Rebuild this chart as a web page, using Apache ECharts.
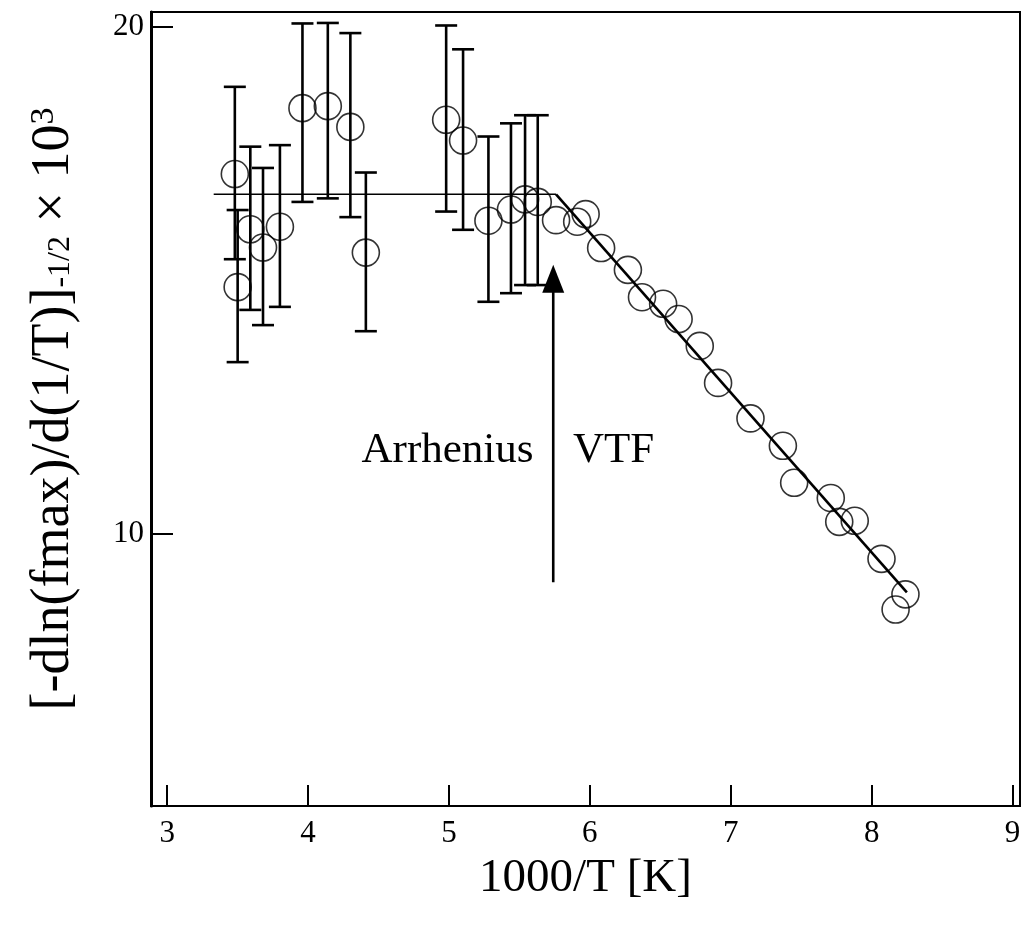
<!DOCTYPE html>
<html>
<head>
<meta charset="utf-8">
<script src="https://cdn.jsdelivr.net/npm/echarts@6/dist/echarts.min.js"></script>
<style>
html,body{margin:0;padding:0;background:#fff;}
#chart{width:1029px;height:928px;}
</style>
</head>
<body>
<div id="chart"></div>
<script>
// ---- data ----
const xTicks = [3, 4, 5, 6, 7, 8, 9];
const yTicks = [10, 20];

const xVals = [3.48, 3.50, 3.59, 3.68, 3.80, 3.96, 4.14, 4.30, 4.41, 4.98, 5.10, 5.28, 5.44, 5.54, 5.63,
               5.76, 5.91, 5.97, 6.08, 6.27, 6.37, 6.52, 6.63, 6.78, 6.91, 7.14, 7.37, 7.45, 7.71, 7.77,
               7.88, 8.07, 8.24, 8.17];
const yVals = [17.10, 14.87, 16.01, 15.65, 16.06, 18.40, 18.44, 18.03, 15.55, 18.17, 17.76, 16.18, 16.40, 16.60, 16.55,
               16.19, 16.16, 16.31, 15.64, 15.21, 14.67, 14.54, 14.24, 13.71, 12.98, 12.28, 11.74, 11.01, 10.71, 10.24,
               10.26, 9.51, 8.81, 8.51];
// error bars for the first 15 points
const errUpper = [18.82, 16.39, 17.64, 17.22, 17.67, 20.07, 20.08, 19.88, 17.13, 20.03, 19.56, 17.84, 18.10, 18.26, 18.26];
const errLower = [15.42, 13.39, 14.42, 14.12, 14.48, 16.55, 16.62, 16.25, 14.00, 16.36, 16.00, 14.58, 14.75, 14.91, 14.91];

// fitted lines
const arrheniusX = [3.33, 5.76];
const arrheniusY = [16.70, 16.70];
const vtfX = [5.76, 8.25];
const vtfY = [16.70, 8.85];

// arrow marking the crossover
const arrowX = 5.74;
const arrowFromY = 9.05;
const arrowToY = 15.31;

// annotations
const noteTexts = ['Arrhenius', 'VTF'];
const noteX = [5.60, 5.88];
const noteY = [11.64, 11.64];

// ---- chart ----
const serif = '"Liberation Serif", "DejaVu Serif", serif';
const chart = echarts.init(document.getElementById('chart'), null, {renderer: 'canvas'});

const scatterData = xVals.map((x, i) => [x, yVals[i]]);
const errData = errUpper.map((u, i) => [xVals[i], errLower[i], u]);

const option = {
  backgroundColor: '#fff',
  animation: false,
  grid: {left: 151, right: 9, top: 12, bottom: 122, show: true, borderColor: '#000', borderWidth: 2, containLabel: false},
  xAxis: {
    type: 'value', min: 2.885, max: 9.053,
    splitLine: {show: false},
    axisLine: {show: true, lineStyle: {color: '#000', width: 2}},
    axisTick: {show: true, inside: true, length: 21, lineStyle: {color: '#000', width: 2}, customValues: xTicks},
    axisLabel: {show: true, customValues: xTicks, margin: 12, color: '#000', fontFamily: serif, fontSize: 31,
      formatter: v => String(Math.round(v))},
    name: '1000/T [K]', nameLocation: 'middle', nameGap: 49,
    nameTextStyle: {color: '#000', fontFamily: serif, fontSize: 47}
  },
  yAxis: {
    type: 'value', min: 4.635, max: 20.296,
    splitLine: {show: false},
    axisLine: {show: true, lineStyle: {color: '#000', width: 3}},
    axisTick: {show: true, inside: true, length: 22, lineStyle: {color: '#000', width: 2}, customValues: yTicks},
    axisLabel: {show: true, customValues: yTicks, margin: 7, color: '#000', fontFamily: serif, fontSize: 31,
      formatter: v => String(Math.round(v))},
    name: '{m|[-dln(fmax)/d(1/T)]}{s|-1/2}{m| × 10}{p|3}',
    nameLocation: 'middle', nameRotate: 90, nameGap: 70,
    nameTextStyle: {
      color: '#000', fontFamily: serif, fontSize: 54,
      rich: {
        m: {fontFamily: serif, fontSize: 54, color: '#000'},
        s: {fontFamily: serif, fontSize: 32, color: '#000', verticalAlign: 'bottom', padding: [0, 0, 4, 0]},
        p: {fontFamily: serif, fontSize: 34, color: '#000', verticalAlign: 'top'}
      }
    }
  },
  series: [
    {
      type: 'custom', name: 'errorbars', z: 2,
      data: errData,
      encode: {x: 0, y: [1, 2]},
      renderItem: function (params, api) {
        const x = api.value(0);
        const lo = api.coord([x, api.value(1)]);
        const hi = api.coord([x, api.value(2)]);
        const cap = 11;
        const style = {stroke: '#000', lineWidth: 2.6};
        return {
          type: 'group',
          children: [
            {type: 'line', shape: {x1: lo[0], y1: lo[1], x2: hi[0], y2: hi[1]}, style: style},
            {type: 'line', shape: {x1: lo[0] - cap, y1: lo[1], x2: lo[0] + cap, y2: lo[1]}, style: style},
            {type: 'line', shape: {x1: hi[0] - cap, y1: hi[1], x2: hi[0] + cap, y2: hi[1]}, style: style}
          ]
        };
      }
    },
    {
      type: 'line', name: 'Arrhenius fit', z: 3,
      data: arrheniusX.map((x, i) => [x, arrheniusY[i]]),
      symbol: 'none', lineStyle: {color: '#000', width: 1.6}
    },
    {
      type: 'line', name: 'VTF fit', z: 3,
      data: vtfX.map((x, i) => [x, vtfY[i]]),
      symbol: 'none', lineStyle: {color: '#000', width: 2.6}
    },
    {
      type: 'scatter', name: 'data', z: 4,
      data: scatterData,
      symbol: 'circle', symbolSize: 27,
      itemStyle: {color: 'transparent', borderColor: '#000', borderWidth: 1.6}
    },
    {
      type: 'custom', name: 'arrow', z: 5,
      data: [[arrowX, arrowFromY, arrowToY]],
      encode: {x: 0, y: [1, 2]},
      renderItem: function (params, api) {
        const x = api.value(0);
        const base = api.coord([x, api.value(1)]);
        const tip = api.coord([x, api.value(2)]);
        const hw = 11, hh = 28;
        return {
          type: 'group',
          children: [
            {type: 'line', shape: {x1: base[0], y1: base[1], x2: tip[0], y2: tip[1] + hh - 2}, style: {stroke: '#000', lineWidth: 2.6}},
            {type: 'polygon', shape: {points: [[tip[0], tip[1]], [tip[0] - hw, tip[1] + hh], [tip[0] + hw, tip[1] + hh]]}, style: {fill: '#000'}}
          ]
        };
      }
    },
    {
      type: 'custom', name: 'notes', z: 6,
      data: noteTexts.map((t, i) => [noteX[i], noteY[i]]),
      encode: {x: 0, y: 1},
      renderItem: function (params, api) {
        const p = api.coord([api.value(0), api.value(1)]);
        const i = params.dataIndex;
        return {
          type: 'text', x: p[0], y: p[1],
          style: {text: noteTexts[i], fill: '#000', font: '43px ' + serif,
            align: i === 0 ? 'right' : 'left', verticalAlign: 'middle'}
        };
      }
    }
  ]
};
chart.setOption(option);
</script>
</body>
</html>
